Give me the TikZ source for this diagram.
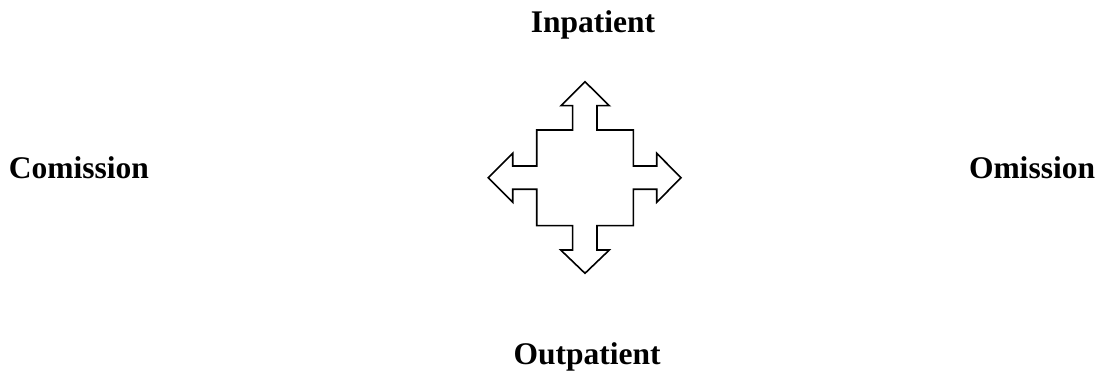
\documentclass[tikz,border=0pt]{standalone}
\usepackage{fontspec}
\setmainfont{Liberation Serif}
\begin{document}
\begin{tikzpicture}[x=1pt,y=-1pt,
  label/.style={font=\bfseries\fontsize{31.5}{38}\selectfont, inner sep=0pt, anchor=base},
  crossarrow/.style={draw=black, line width=1.6pt, line join=miter, fill=white}]
\useasboundingbox (0,0) rectangle (1099,371);
% four-way block arrow
\draw[crossarrow]
  (585,81.7) -- (609.3,105.7) -- (597,105.7) -- (597,130) -- (633.3,130) -- (633.3,166)
  -- (656.7,166) -- (656.7,153.3) -- (681,177.7) -- (656.7,202.3) -- (656.7,189.3)
  -- (633.3,189.3) -- (633.3,225.7) -- (597,225.7) -- (597,250) -- (609.3,250)
  -- (585,273.3) -- (560.7,250) -- (572.6,250) -- (572.6,225.7) -- (536.7,225.7)
  -- (536.7,189.3) -- (512.7,189.3) -- (512.7,202.3) -- (488.3,177.7) -- (512.7,153.3)
  -- (512.7,166) -- (536.7,166) -- (536.7,130) -- (572.6,130) -- (572.6,105.7)
  -- (561,105.7) -- cycle;
% labels
\node[label] (in)  at (593,32.5)  {Inpatient};
\node[label] (out) at (587,364.5) {Outpatient};
\node[label] (com) at (79,179)    {Comission};
\node[label] (om)  at (1032,179)  {Omission};
\end{tikzpicture}
\end{document}
